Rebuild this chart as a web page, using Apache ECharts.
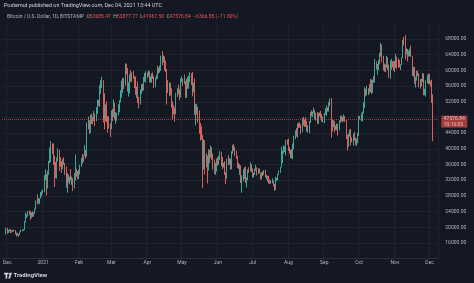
<!DOCTYPE html>
<html><head><meta charset="utf-8">
<script src="https://cdn.jsdelivr.net/npm/echarts@6/dist/echarts.min.js"></script>
<style>html,body{margin:0;padding:0;background:#141822;}#c{width:474px;height:283px;}</style>
</head><body><div id="c"></div>
<script>
// Daily candles, each row [open, high, low, close]
const nov20 = [[18180,19860,18180,19700]];
const dec20 = [
[19700,19920,18330,18790],[18790,19310,18520,19220],[19220,19580,18930,19450],[19450,19520,18570,18700],
[18700,19170,18590,19150],[19150,19420,18870,19370],[19370,19400,18920,19180],[19180,19290,18200,18330],
[18330,18640,17650,18550],[18550,18560,17920,18250],[18250,18290,17570,18040],[18040,18950,18030,18800],
[18800,19410,18730,19170],[19170,19350,19000,19270],[19270,19570,19060,19440],[19440,21560,19300,21350],
[21350,23770,21250,22800],[22800,23280,22350,23130],[23130,24170,22750,23860],[23860,24280,23100,23480],
[23480,24100,21850,22740],[22740,23830,22380,23820],[23820,24100,22650,23250],[23250,23790,22720,23720],
[23720,24780,23430,24690],[24690,26870,24510,26440],[26440,28400,25850,26250],[26250,27440,26100,27040],
[27040,27380,25880,27370],[27370,28990,27330,28880],[28880,29300,27850,28950]];
const jan21 = [
[28950,29680,28650,29370],[29370,33300,28950,32130],[32130,34780,31960,32780],[32780,33600,28130,31970],
[31970,34440,29910,33990],[33990,36940,33350,36820],[36820,40360,36370,39370],[39370,41950,36570,40670],
[40670,41370,38730,40240],[40240,41360,35900,38240],[38240,38250,30260,35540],[35540,36620,32540,33920],
[33920,37800,32420,37330],[37330,40100,36820,39150],[39150,39720,34400,36800],[36800,37900,35400,36070],
[36070,36850,33850,35820],[35820,37400,34800,36630],[36630,37860,35900,36010],[36010,36400,33400,35530],
[35530,35550,30070,30830],[30830,33830,28800,33000],[33000,33450,31400,32090],[32090,32950,30950,32290],
[32290,34870,31930,32250],[32250,32930,30840,32510],[32510,32560,29240,30430],[30430,33820,29880,33470],
[33470,38530,31950,34300],[34300,34880,32900,34290],[34290,34330,32200,33110]];
const feb21 = [
[33110,34670,32310,33540],[33540,35960,33430,35510],[35510,37700,35380,37670],[37670,38690,36200,36950],
[36950,38320,36620,38290],[38290,40960,38160,39260],[39260,39730,37400,38900],[38900,46730,37980,46400],
[46400,48200,45000,46500],[46500,47300,43800,44850],[44850,48680,44030,48000],[48000,48940,46300,47400],
[47400,48150,46230,47190],[47190,49700,47100,48580],[48580,49000,45810,47930],[47930,50600,47060,49160],
[49160,52560,48950,52150],[52150,52520,50930,51680],[51680,56300,50730,55900],[55900,57500,54000,55900],
[55900,58350,55500,57490],[57490,57520,46700,54090],[54090,54150,45000,48890],[48890,51360,47050,49680],
[49680,52040,46720,47070],[47070,48320,44150,46280],[46280,48250,45170,46110],[46110,46550,43030,45140]];
const mar21 = [
[45140,49790,45030,49590],[49590,50160,47080,48440],[48440,52560,48100,50350],[50350,51740,47540,48370],
[48370,49380,46350,48760],[48760,49170,47110,48880],[48880,51410,48540,50970],[50970,52400,49330,52370],
[52370,54900,51850,54880],[54880,57370,53050,55850],[55850,58100,54290,57250],[57250,58000,55200,57230],
[57230,61790,56100,61190],[61190,61660,58970,59000],[59000,60600,54600,55640],[55640,56950,53300,56430],
[56430,58970,54160,58000],[58000,60050,57100,57620],[57620,59480,56930,58250],[58250,59880,57850,58100],
[58100,58500,55500,57350],[57350,58430,53750,54100],[54100,55880,53000,54340],[54340,57200,51700,52300],
[52300,53220,50330,51300],[51300,55100,51260,55070],[55070,56560,53960,55840],[55840,56580,54690,55780],
[55780,58360,54880,57620],[57620,59330,57050,58780],[58780,59780,56910,58800]];
const apr21 = [
[58800,59470,57940,58740],[58740,60030,58460,58970],[58970,59780,56860,57060],[57060,58500,56920,58200],
[58200,59250,56840,59130],[59130,59450,57800,58030],[58030,58610,55470,55950],[55950,58170,55720,58090],
[58090,58880,57660,58100],[58100,61200,57900,59780],[59780,60700,59200,59990],[59990,61200,59450,59860],
[59860,63770,59860,63580],[63580,64900,61300,62960],[62960,63800,62020,63220],[63220,63550,60000,61380],
[61380,62500,59600,60070],[60070,60350,51300,56270],[56270,57500,54250,55720],[55720,57000,53400,56470],
[56470,56770,53600,53810],[53810,55450,50500,51730],[51730,52100,47500,51150],[51150,51200,48800,50110],
[50110,50500,46950,49070],[49070,54300,48800,54050],[54050,55450,53250,55070],[55070,56400,53900,54880],
[54880,55200,52400,53580],[53580,57950,53100,57750]];
const may21 = [
[57750,58500,57050,57830],[57830,57920,56070,56630],[56630,58980,56500,57210],[57210,57220,53050,53240],
[53240,57850,52930,57490],[57490,58370,55250,56400],[56400,58650,55400,57350],[57350,59500,56900,58800],
[58800,59300,56260,58230],[58230,59580,53400,55860],[55860,56850,54400,56750],[56750,57950,48600,49150],
[49150,51370,46000,49720],[49720,51500,48800,49880],[49880,50700,46650,46760],[46760,49800,43850,46450],
[46450,46600,42150,43540],[43540,45800,42300,42900],[42900,43550,30000,36700],[36700,42450,34850,40550],
[40550,42200,33500,37300],[37300,38850,35300,37530],[37530,38300,31200,34700],[34700,39850,34500,38720],
[38720,39800,36400,38400],[38400,40850,37800,39290],[39290,40400,37200,38440],[38440,38800,34700,35680],
[35680,37300,33600,34620],[34620,36400,33400,35640],[35640,37500,34200,37290]];
const jun21 = [
[37290,37880,35700,36690],[36690,38200,35950,37570],[37570,39450,37200,39190],[39190,39250,35600,36850],
[36850,37900,34800,35520],[35520,36450,35250,35800],[35800,36800,33350,33560],[33560,34050,31000,33400],
[33400,37500,32400,37390],[37390,38400,35800,36690],[36690,37650,35950,37340],[37340,37450,34650,35550],
[35550,39400,34800,39020],[39020,41000,38750,40520],[40520,41300,39500,40140],[40140,40500,38150,38350],
[38350,39550,37400,38090],[38090,38200,35150,35820],[35820,36450,34850,35480],[35480,36100,33350,35600],
[35600,35750,31300,31610],[31610,33300,28800,32510],[32510,34850,31700,33690],[33690,35250,32300,34660],
[34660,35500,31300,31590],[31590,32700,30150,32280],[32280,34700,32000,34700],[34700,35300,33850,34500],
[34500,36600,34300,35910],[35910,36050,34050,35040]];
const jul21 = [
[35040,35050,32750,33570],[33570,33950,32700,33800],[33800,34900,33350,34660],[34660,35950,34400,35290],
[35290,35300,33200,33690],[33690,35050,33550,34220],[34220,35000,33800,33860],[33860,33900,32120,32880],
[32880,34100,32280,33820],[33820,34250,33050,33510],[33510,34600,33330,34260],[34260,34650,32700,33090],
[33090,33350,32250,32730],[32730,33100,31650,32820],[32820,33180,31150,31780],[31780,32250,31050,31420],
[31420,31950,31150,31530],[31530,32450,31200,31780],[31780,31900,30450,30840],[30840,31050,29300,29790],
[29790,32850,29500,32140],[32140,32600,31750,32310],[32310,33650,32000,33580],[33580,34500,33420,34290],
[34290,35400,33880,35350],[35350,40550,35250,37340],[37340,39550,36400,39410],[39410,40900,38800,39990],
[39990,40650,39200,40030],[40030,42300,38350,42230],[42230,42400,41050,41500]];
const aug21 = [
[41500,42600,39450,39880],[39880,40450,38700,39180],[39180,39780,37650,38150],[38150,39950,37550,39750],
[39750,41400,37350,40870],[40870,43350,39900,42830],[42830,44700,42450,44630],[44630,45300,43100,43820],
[43820,46450,42850,46280],[46280,46700,45350,45600],[45600,46750,45350,45590],[45590,46200,43800,44430],
[44430,47850,44250,47830],[47830,48150,45950,47100],[47100,47400,45550,47020],[47020,48050,45650,45940],
[45940,47150,44400,44690],[44690,46000,44200,44710],[44710,47050,43950,46770],[46770,49350,46650,49340],
[49340,49800,48300,48900],[48900,49500,48100,49290],[49290,50500,49050,49510],[49510,49850,47600,47710],
[47710,49200,47150,48990],[48990,49350,46350,46850],[46850,49150,46400,49070],[49070,49300,48350,48900],
[48900,49650,47800,48810],[48810,48900,46900,46990],[46990,48250,46750,47160]];
const sep21 = [
[47160,49150,46550,48830],[48830,50350,48650,49280],[49280,51050,48400,49940],[49940,50550,49500,49930],
[49930,51900,49500,51790],[51790,52800,50950,52690],[52690,52950,42850,46860],[46860,47350,44450,46080],
[46080,47350,45550,46370],[46370,47050,44200,44850],[44850,45950,44750,45160],[45160,46450,44750,46020],
[46020,46350,43400,44960],[44960,47250,44700,47110],[47110,48450,46700,48120],[48120,48500,47050,47760],
[47760,48150,46750,47300],[47300,48800,47050,48300],[48300,48350,46850,47260],[47260,47350,42500,42840],
[42840,43600,39600,40690],[40690,43950,40550,43570],[43570,44950,43100,44900],[44900,45050,40850,42840],
[42840,42950,41700,42710],[42710,43900,40800,43210],[43210,44300,42100,42240],[42240,42800,40900,41030],
[41030,42600,40800,41520],[41520,44100,41450,43790]];
const oct21 = [
[43790,48400,43300,48120],[48120,48350,47450,47710],[47710,49200,47100,48200],[48200,49500,46950,49110],
[49110,51850,49050,51510],[51510,55700,50400,55340],[55340,55350,53400,53800],[53800,56100,53650,53970],
[53970,55450,53700,54960],[54960,56500,54150,54660],[54660,57800,54450,57470],[57470,57650,53900,56000],
[56000,57600,54300,57370],[57370,58500,56850,57350],[57350,62900,56850,61670],[61670,62300,60200,60880],
[60880,61650,58900,61530],[61530,62650,60100,62010],[62010,64450,61550,64280],[64280,67000,63500,66000],
[66000,66600,62050,62210],[62210,63700,60000,60690],[60690,61750,59700,61290],[61290,61500,59550,60860],
[60860,63700,60700,63080],[63080,63300,60100,60330],[60330,61450,58100,58450],[58450,62500,57850,60590],
[60590,62950,60200,62270],[62270,62300,60750,61890],[61890,62400,59950,61320]];
const nov21 = [
[61320,62400,59550,61000],[61000,64250,60650,63220],[63220,63500,60400,62930],[62930,63100,60700,61400],
[61400,62600,60750,61010],[61010,61550,60100,61530],[61530,63300,61350,63300],[63300,67750,63150,67550],
[67550,68500,66350,66970],[66970,69000,62800,64880],[64880,65600,64100,64950],[64950,65450,62300,64160],
[64160,65000,63500,64400],[64400,65500,63650,65470],[65470,66300,63400,63580],[63580,63600,58600,60160],
[60160,60800,58400,60370],[60370,60950,56500,56890],[56890,58350,55650,58100],[58100,59850,57400,59750],
[59750,60000,58550,58670],[58670,59250,55700,56300],[56300,57850,55350,57570],[57570,57800,55900,57190],
[57190,59350,57050,58960],[58960,59200,53650,53730],[53730,55300,53650,54720],[54720,57400,53350,57270],
[57270,58850,56700,57800],[57800,59200,56450,56950]];
const dec21 = [
[56950,59100,56450,57200],[57200,57400,55850,56500],[56500,57600,51700,53943.69],[53685.47,53877.77,41967.50,47576.84]];

const firstDay = '2020-11-27';   // first category on the time scale
const dayCount = 377;            // categories incl. a few empty future days
const leadingEmpty = 3;          // categories before the first candle
const yTicks = {min: 12000, max: 72000, step: 4000};
const monthLabels = ['2021','Feb','Mar','Apr','May','Jun','Jul','Aug','Sep','Oct','Nov','Dec'];
const countdown = '10:16:05';

const dates = [];
{
  const d = new Date(firstDay + 'T00:00:00Z');
  for (let i = 0; i < dayCount; i++) {
    dates.push(d.toISOString().slice(0, 10));
    d.setUTCDate(d.getUTCDate() + 1);
  }
}
const rows = [].concat(nov20, dec20, jan21, feb21, mar21, apr21, may21, jun21, jul21, aug21, sep21, oct21, nov21, dec21);
const candles = [];
for (let i = 0; i < leadingEmpty; i++) candles.push('-');
rows.forEach(r => candles.push([r[0], r[3], r[2], r[1]]));

const last = rows[rows.length - 1];
const prev = rows[rows.length - 2];
const chg = last[3] - prev[3];
const pct = chg / prev[3] * 100;
const m = v => (v < 0 ? '\u2212' : '') + Math.abs(v).toFixed(2);

const isMonthStart = (idx) => dates[idx] && dates[idx].slice(8) === '01';
const monthName = (val) => {
  const mo = parseInt(val.slice(5, 7), 10);
  if (val.slice(0, 4) === '2020') return 'Dec';
  return monthLabels[mo - 1];
};

const UP = '#3fb5a6', DOWN = '#ee6a63';
const FONT = 'Roboto, "Liberation Sans", sans-serif';
const chart = echarts.init(document.getElementById('c'), null, {renderer: 'canvas'});
chart.setOption({
  backgroundColor: '#141822',
  animation: false,
  textStyle: {fontFamily: FONT},
  grid: {left: 0, right: 35.7, top: 23.3, bottom: 24.3, containLabel: false},
  xAxis: {
    type: 'category',
    data: dates,
    boundaryGap: true,
    axisLine: {show: true, lineStyle: {color: '#2a2e39', width: 1}},
    axisTick: {show: false},
    axisLabel: {
      interval: (idx) => isMonthStart(idx),
      formatter: (val) => monthName(val),
      color: '#b2b5be', fontSize: 5, margin: 1.5, fontFamily: FONT
    },
    splitLine: {show: true, interval: (idx) => isMonthStart(idx), lineStyle: {color: '#1f2330', width: 1}}
  },
  yAxis: {
    type: 'value',
    position: 'right',
    min: yTicks.min, max: yTicks.max, interval: yTicks.step,
    axisLine: {show: false},
    axisTick: {show: false},
    axisLabel: {
      showMinLabel: false, showMaxLabel: false,
      formatter: (v) => (v === 48000 ? '' : v.toFixed(2)),
      color: '#b2b5be', fontSize: 5, margin: 7, align: 'left', fontFamily: FONT
    },
    splitLine: {show: true, showMinLine: false, showMaxLine: false, lineStyle: {color: '#1f2330', width: 1}}
  },
  series: [{
    type: 'candlestick',
    data: candles,
    barWidth: 1.2,
    itemStyle: {
      color: UP, color0: DOWN,
      borderColor: UP, borderColor0: DOWN, borderWidth: 0.9
    },
    markLine: {
      silent: true,
      symbol: ['none', 'none'],
      lineStyle: {color: '#ef5350', type: 'dotted', width: 1, opacity: 0.65},
      label: {
        show: true, position: 'end', distance: 3, offset: [0, 2.5],
        formatter: () => last[3].toFixed(2) + '\n' + countdown,
        backgroundColor: '#ef5350', color: '#ffffff', fontSize: 5, lineHeight: 5.5,
        padding: [0.6, 2.5, 0.3, 2.5], fontFamily: FONT
      },
      data: [{yAxis: last[3]}]
    }
  }],
  graphic: [
    {type: 'text', left: 4, top: 3, z: 10,
     style: {text: 'Posternut published on TradingView.com, Dec 04, 2021 13:44 UTC', fill: '#d1d4dc', fontSize: 5.4, fontFamily: FONT}},
    {type: 'text', left: 7, top: 14.5, z: 10,
     style: {
       text: '{t|Bitcoin / U.S. Dollar, 1D, BITSTAMP}  {l|O}{v|' + last[0].toFixed(2) + '}  {l|H}{v|' + last[1].toFixed(2) +
             '}  {l|L}{v|' + last[2].toFixed(2) + '}  {l|C}{v|' + last[3].toFixed(2) + '}  {v|' + m(chg) + ' (' + m(pct) + '%)}',
       fontFamily: FONT, fontSize: 5,
       rich: {
         t: {fill: '#b2b5be', fontSize: 5, fontFamily: FONT},
         l: {fill: '#b2b5be', fontSize: 5, fontFamily: FONT},
         v: {fill: '#ef5350', fontSize: 5, fontFamily: FONT}
       }
     }},
    {type: 'rect', shape: {x: 4, y: 272.8, width: 4.2, height: 1.6}, style: {fill: '#d1d4dc'}},
    {type: 'rect', shape: {x: 5.6, y: 272.8, width: 1.6, height: 5.8}, style: {fill: '#d1d4dc'}},
    {type: 'circle', shape: {cx: 9.4, cy: 273.7, r: 0.9}, style: {fill: '#d1d4dc'}},
    {type: 'polygon', shape: {points: [[10.4, 272.8], [12.1, 272.8], [9.9, 278.6], [8.2, 278.6]]}, style: {fill: '#d1d4dc'}},
    {type: 'text', left: 13.5, top: 272.5,
     style: {text: 'TradingView', fill: '#d1d4dc', fontSize: 6, fontWeight: 'bold', fontFamily: FONT}}
  ]
});
</script>
</body></html>
